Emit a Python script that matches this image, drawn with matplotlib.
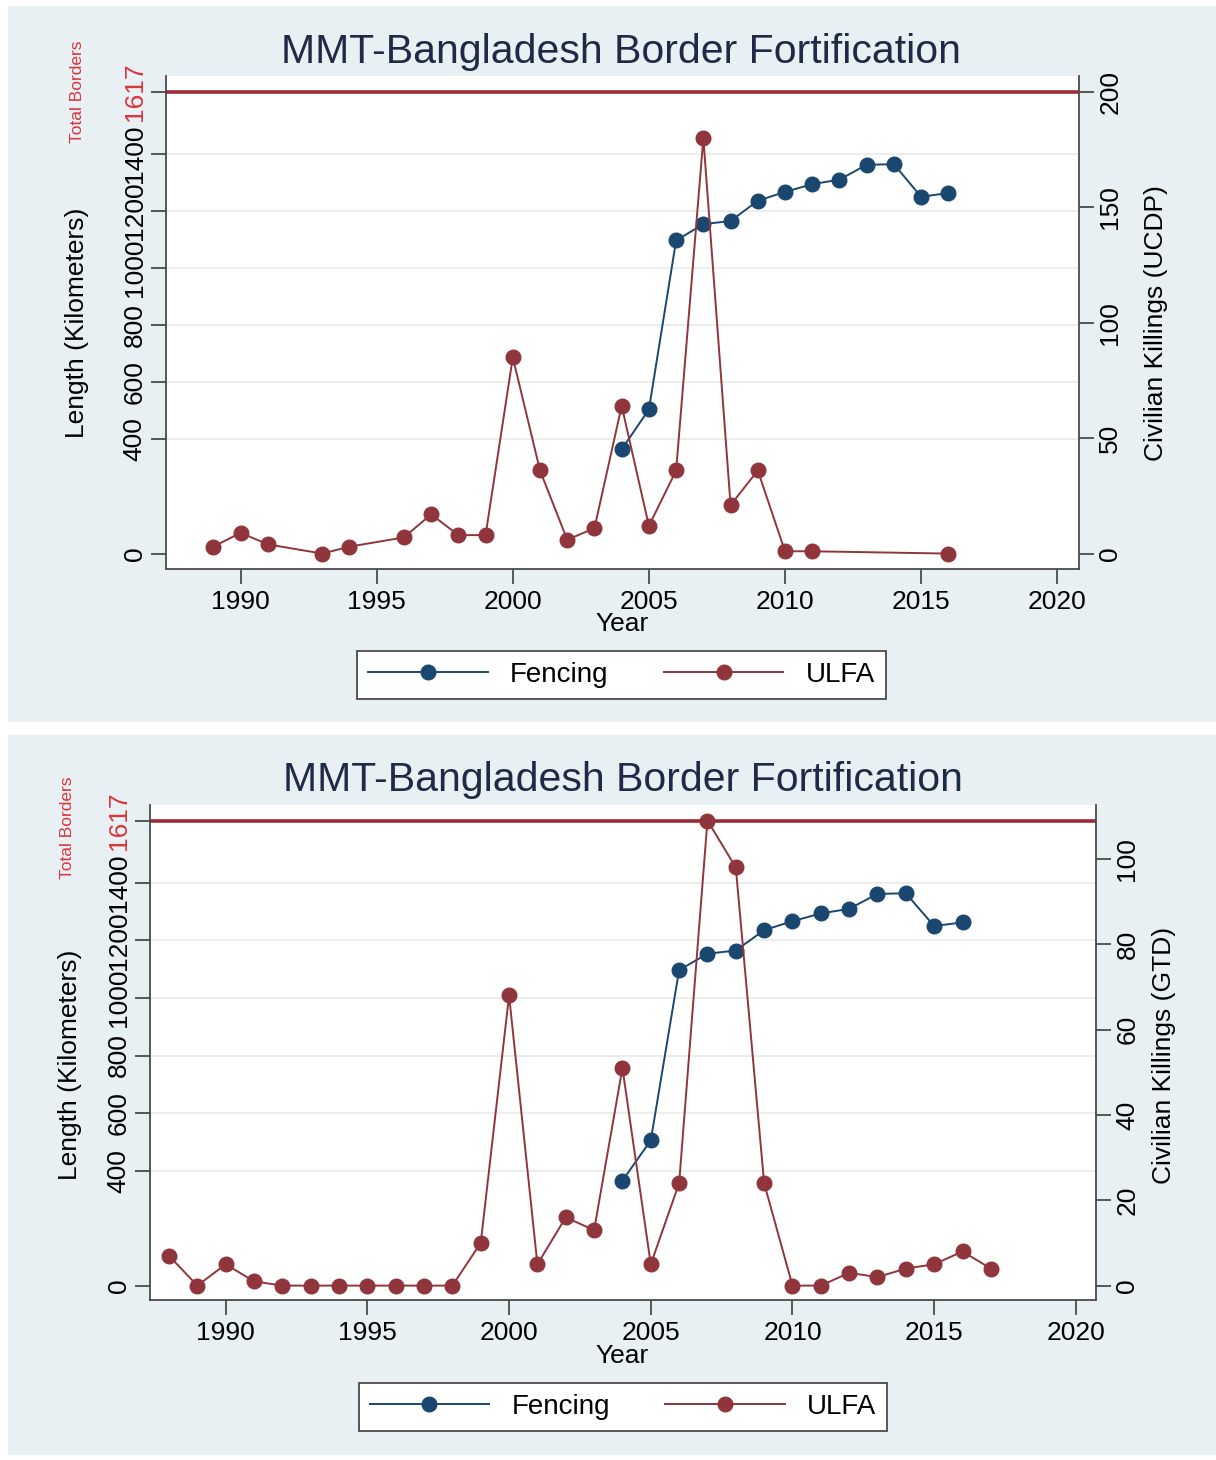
import matplotlib
matplotlib.use("Agg")
import matplotlib.pyplot as plt
from matplotlib.patches import Rectangle
from matplotlib.lines import Line2D

plt.rcParams["font.family"] = ["Liberation Sans", "DejaVu Sans"]

W, H = 1216, 1460

# fencing length in km (same series in both panels)
fence_years = [2004, 2005, 2006, 2007, 2008, 2009, 2010, 2011, 2012, 2013, 2014, 2015, 2016]
fencing_km = [365, 505, 1097, 1154, 1165, 1236, 1267, 1294, 1310, 1362, 1364, 1250, 1263]

# ULFA civilian killings, UCDP
ucdp_years = [1989, 1990, 1991, 1993, 1994, 1996, 1997, 1998, 1999, 2000, 2001,
              2002, 2003, 2004, 2005, 2006, 2007, 2008, 2009, 2010, 2011, 2016]
ucdp_kills = [3, 9, 4, 0, 3, 7, 17, 8, 8, 85, 36, 6, 11, 64, 12, 36, 180, 21, 36, 1, 1, 0]

# ULFA civilian killings, GTD
gtd_years = list(range(1988, 2018))
gtd_kills = [7, 0, 5, 1, 0, 0, 0, 0, 0, 0, 0, 10, 68, 5, 16, 13, 51, 5, 24, 109,
             98, 24, 0, 0, 3, 2, 4, 5, 8, 4]

TOTAL_BORDER = 1617
left_ticks = [0, 400, 600, 800, 1000, 1200, 1400, 1617]
left_labels = ["0", "400", "600", "800", "1000", "1200", "1400", "1617"]
x_ticks = [1990, 1995, 2000, 2005, 2010, 2015, 2020]

NAVY = "#1a476f"
MAROON = "#90353b"
LINE_RED = "#9e2a35"
LABEL_RED = "#d8363c"
BG = "#e9f0f3"
AXC = "#4a4a4a"
TITLE_C = "#1f2b46"


def px_rect(x0, y0, x1, y1):
    return [x0 / W, 1 - y1 / H, (x1 - x0) / W, (y1 - y0) / H]


def draw_panel(fig, bg_box, ax_box, xlim, ylim, right_max, right_ticks, right_title,
               k_years, k_values, title_xy, total_xy, legend_xy):
    bx = px_rect(*bg_box)
    fig.patches.append(Rectangle((bx[0], bx[1]), bx[2], bx[3], transform=fig.transFigure,
                                 facecolor=BG, edgecolor="none", zorder=-5))

    ax = fig.add_axes(px_rect(*ax_box))
    ax.set_facecolor("white")
    ax.set_xlim(*xlim)
    ax.set_ylim(*ylim)

    for v in left_ticks[1:-1]:
        ax.axhline(v, color="#ececec", lw=1.3, zorder=1)
    ax.axhline(TOTAL_BORDER, color=LINE_RED, lw=2.6, zorder=2)

    ax.plot(fence_years, fencing_km, color=NAVY, lw=1.4, marker="o", markersize=10.5,
            zorder=3)

    ax.set_xticks(x_ticks)
    ax.set_yticks(left_ticks)
    ax.set_yticklabels(left_labels)
    ax.tick_params(axis="both", direction="out", length=11, width=1.3, color=AXC,
                   labelsize=19)
    ax.tick_params(axis="x", pad=4)
    ax.tick_params(axis="y", pad=3)
    for lab in ax.get_yticklabels():
        lab.set_rotation(90)
        lab.set_va("center")
    ax.get_yticklabels()[-1].set_color(LABEL_RED)

    for s in ["top", "right"]:
        ax.spines[s].set_visible(False)
    for s in ["left", "bottom"]:
        ax.spines[s].set_color(AXC)
        ax.spines[s].set_linewidth(1.3)

    ax.set_xlabel("Year", fontsize=19, va="center")
    ax.set_ylabel("Length (Kilometers)", fontsize=19, va="center")
    x0, y0, x1, y1 = ax_box
    ax.xaxis.set_label_coords((622 - x0) / (x1 - x0), (y1 - title_xy[2]) / (y1 - y0))
    ax.yaxis.set_label_coords((title_xy[3] - x0) / (x1 - x0), (y1 - title_xy[4]) / (y1 - y0))

    # secondary axis for killings, scaled so 1617 km lines up with right_max
    ax2 = ax.twinx()
    scale = right_max / TOTAL_BORDER
    ax2.set_ylim(ylim[0] * scale, ylim[1] * scale)
    ax2.plot(k_years, k_values, color=MAROON, lw=1.4, marker="o", markersize=10.5,
             zorder=3)
    ax2.set_yticks(right_ticks)
    ax2.tick_params(axis="y", direction="out", length=11, width=1.3, color=AXC,
                    labelsize=19, pad=3)
    for lab in ax2.get_yticklabels():
        lab.set_rotation(90)
        lab.set_va("center")
    for s in ["top", "left", "bottom"]:
        ax2.spines[s].set_visible(False)
    ax2.spines["right"].set_color(AXC)
    ax2.spines["right"].set_linewidth(1.3)
    ax2.set_ylabel(right_title, fontsize=19, va="center")
    ax2.yaxis.set_label_coords((title_xy[5] - x0) / (x1 - x0), (y1 - title_xy[6]) / (y1 - y0))

    fig.text(title_xy[0] / W, 1 - title_xy[1] / H, "MMT-Bangladesh Border Fortification",
             fontsize=29.5, color=TITLE_C, ha="center", va="center")
    fig.text(total_xy[0] / W, 1 - total_xy[1] / H, "Total Borders", fontsize=12.5,
             color=LABEL_RED, rotation=90, ha="center", va="center")

    handles = [Line2D([], [], color=NAVY, lw=1.4, marker="o", markersize=10.5),
               Line2D([], [], color=MAROON, lw=1.4, marker="o", markersize=10.5)]
    leg = fig.legend(handles, ["Fencing", "ULFA"], loc="center",
                     bbox_to_anchor=(legend_xy[0] / W, 1 - legend_xy[1] / H), ncol=2,
                     fontsize=20, frameon=True, fancybox=False, framealpha=1,
                     handlelength=4.3, handletextpad=0.8, columnspacing=2.0,
                     borderpad=0.4)
    leg.get_frame().set_edgecolor(AXC)
    leg.get_frame().set_linewidth(1.3)
    return ax, ax2


fig = plt.figure(figsize=(W / 100, H / 100), dpi=100)
fig.patch.set_facecolor("white")

# top panel: UCDP
draw_panel(fig, (8, 6, 1216, 722), (166, 76, 1079, 569),
           (1987.26, 2020.8), (-54, 1673), 200, [0, 50, 100, 150, 200],
           "Civilian Killings (UCDP)", ucdp_years, ucdp_kills,
           (621, 52, 624, 77, 323, 1156, 323), (77, 92), (621.5, 675))

# bottom panel: GTD
draw_panel(fig, (8, 735, 1216, 1455), (150, 805, 1096, 1300),
           (1987.33, 2020.71), (-50, 1671), 109, [0, 20, 40, 60, 80, 100],
           "Civilian Killings (GTD)", gtd_years, gtd_kills,
           (623, 780, 1356, 70, 1065, 1164, 1055), (68, 828), (623, 1407))

fig.savefig("out.png", dpi=100, facecolor=fig.get_facecolor())
